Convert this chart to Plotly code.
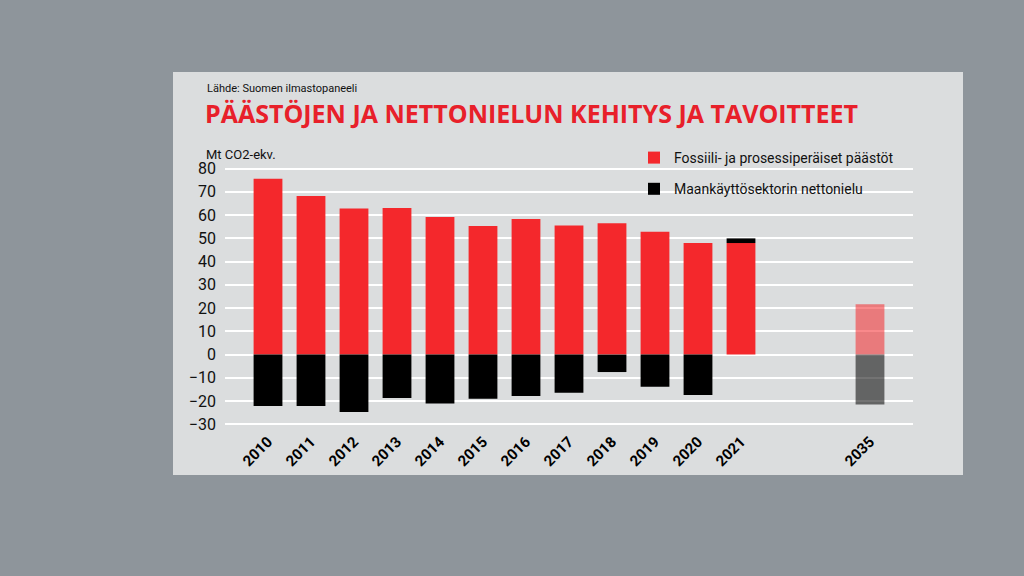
import plotly.graph_objects as go

# Data (Mt CO2-ekv.)
years = ["2010", "2011", "2012", "2013", "2014", "2015", "2016", "2017",
         "2018", "2019", "2020", "2021", " ", "  ", "2035"]
fossil = [75.7, 68.2, 62.9, 63.1, 59.2, 55.3, 58.3, 55.5, 56.5, 52.9, 48.0, 48.0, None, None, 21.7]
landuse = [-22.1, -22.1, -24.7, -18.7, -21.0, -19.0, -17.8, -16.4, -7.5, -13.8, -17.4, 2.0, None, None, -21.5]
opac = [1] * 14 + [0.55]

W, H = 1024, 576
L, R, T, B = 225, 111, 164, 147

fig = go.Figure()
fig.add_bar(x=years, y=fossil, name="Fossiili- ja prosessiperäiset päästöt", legendgroup="a",
            marker=dict(color="#f4282c", opacity=opac, line_width=0))
fig.add_bar(x=years, y=landuse, name="Maankäyttösektorin nettonielu", legendgroup="b",
            marker=dict(color="#000000", opacity=opac, line_width=0))

def px(x, y):
    return (x - L) / (W - L - R), (H - B - y) / (H - T - B)

x0, y0 = px(173, 72)
x1, y1 = px(963, 475)
fig.add_shape(type="rect", xref="paper", yref="paper", x0=x0, y0=y1, x1=x1, y1=y0,
              fillcolor="#e2e3e4", opacity=0.92, line_width=0, layer="below")

ax, ay = px(205, 88)
fig.add_annotation(text="Lähde: Suomen ilmastopaneeli", xref="paper", yref="paper", x=ax, y=ay,
                   xanchor="left", yanchor="middle", showarrow=False,
                   font=dict(family="Roboto", size=11, color="#111"))
ax, ay = px(203, 113)
fig.add_annotation(text="<b>PÄÄSTÖJEN JA NETTONIELUN KEHITYS JA TAVOITTEET</b>", xref="paper", yref="paper",
                   x=ax, y=ay, xanchor="left", yanchor="middle", showarrow=False,
                   font=dict(family="Open Sans", size=25, color="#e8202a"))
ax, ay = px(204, 154)
fig.add_annotation(text="Mt CO2-ekv.", xref="paper", yref="paper", x=ax, y=ay,
                   xanchor="left", yanchor="middle", showarrow=False,
                   font=dict(family="Roboto", size=13, color="#111"))

lx, ly = px(634, 142)
fig.update_layout(
    width=W, height=H, margin=dict(l=L, r=R, t=T, b=B),
    paper_bgcolor="#8e959b", plot_bgcolor="rgba(0,0,0,0)",
    barmode="relative", bargap=0.33, showlegend=True,
    font=dict(family="Roboto", color="#111"),
    legend=dict(x=lx, y=ly, xanchor="left", yanchor="top", bgcolor="rgba(0,0,0,0)",
                font=dict(size=14), tracegroupgap=10, itemwidth=30),
    xaxis=dict(type="category", categoryorder="array", categoryarray=years,
               range=[-1, 15], tickangle=-45, showgrid=False, ticks="",
               tickfont=dict(size=15, family="Roboto", weight="bold", color="#000")),
    yaxis=dict(range=[-32, 82], tickvals=list(range(-30, 90, 10)), showgrid=True,
               gridcolor="#ffffff", gridwidth=1.5, zeroline=False, ticks="",
               ticklabelstandoff=8, tickfont=dict(size=16, color="#111")),
)
fig.write_html("out.html", config={"displayModeBar": False},
               post_script="document.body.style.margin='0';")
